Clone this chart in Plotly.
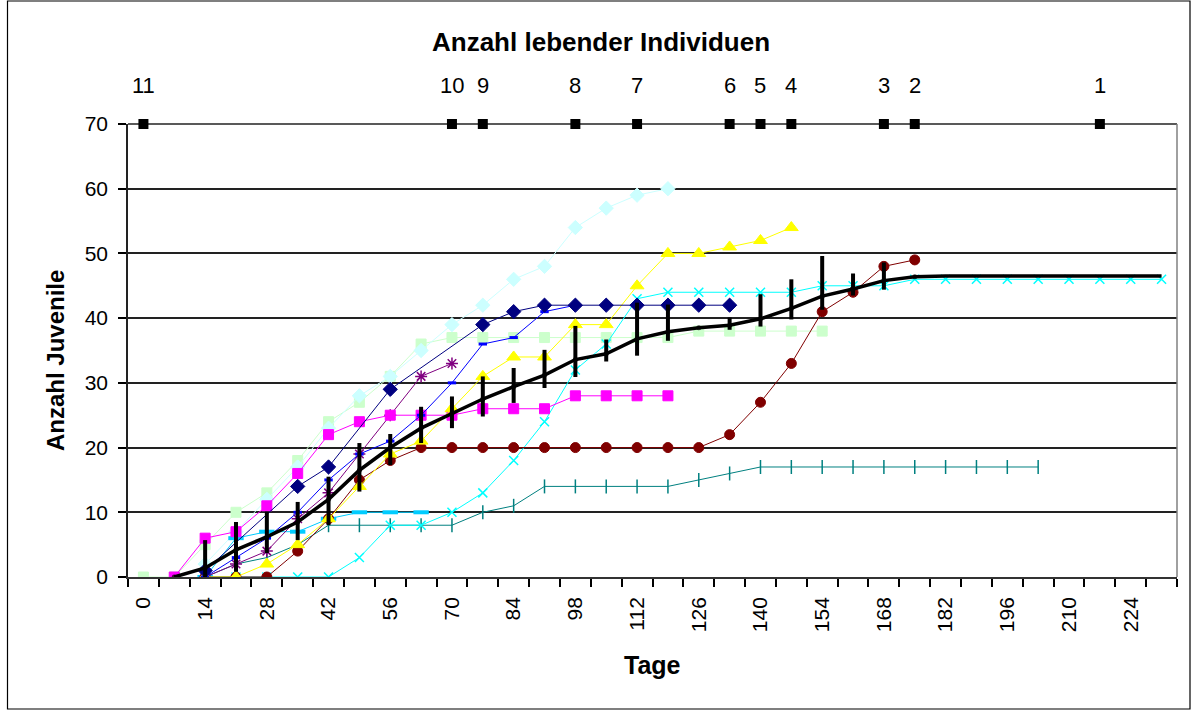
import plotly.graph_objects as go

# ---------------- data ----------------
x_tick_days = list(range(0, 225, 14))

survivor_days = [0, 70, 77, 98, 112, 133, 140, 147, 168, 175, 217]
survivor_counts = [11, 10, 9, 8, 7, 6, 5, 4, 3, 2, 1]

lightgreen_days = [0, 7, 14, 21, 28, 35, 42, 49, 56, 63, 70, 77, 84, 91, 98, 105, 112, 119, 126, 133, 140, 147, 154]
lightgreen_vals = [0, 0, 5, 10, 13, 18, 24, 27, 31, 36, 37, 37, 37, 37, 37, 37, 37, 37, 38, 38, 38, 38, 38]

lightcyan_days = [14, 21, 28, 35, 42, 49, 56, 63, 70, 77, 84, 91, 98, 105, 112, 119]
lightcyan_vals = [2, 7, 12, 17, 23, 28, 31, 35, 39, 42, 46, 48, 54, 57, 59, 60]

magenta_days = [7, 14, 21, 28, 35, 42, 49, 56, 63, 70, 77, 84, 91, 98, 105, 112, 119]
magenta_vals = [0, 6, 7, 11, 16, 22, 24, 25, 25, 25, 26, 26, 26, 28, 28, 28, 28]

yellow_days = [14, 21, 28, 35, 42, 49, 56, 63, 70, 77, 84, 91, 98, 105, 112, 119, 126, 133, 140, 147]
yellow_vals = [0, 0, 2, 5, 9, 14, 19, 21, 26, 31, 34, 34, 39, 39, 45, 50, 50, 51, 52, 54]

navy_days = [14, 35, 42, 56, 77, 84, 91, 98, 105, 112, 119, 126, 133]
navy_vals = [1, 14, 17, 29, 39, 41, 42, 42, 42, 42, 42, 42, 42]

blue_days = [14, 21, 28, 35, 42, 49, 56, 63, 70, 77, 84, 91, 98]
blue_vals = [0, 3, 6, 10, 15, 19, 21, 25, 30, 36, 37, 41, 42]

sky_days = [14, 21, 28, 35, 42, 49, 56, 63]
sky_vals = [0, 6, 7, 7, 9, 10, 10, 10]

purple_days = [14, 21, 28, 35, 42, 49, 56, 63, 70]
purple_vals = [0, 2, 4, 9, 13, 19, 25, 31, 33]

darkred_days = [14, 21, 28, 35, 42, 49, 56, 63, 70, 77, 84, 91, 98, 105, 112, 119, 126, 133, 140, 147, 154, 161, 168, 175]
darkred_vals = [0, 0, 0, 4, 9, 15, 18, 20, 20, 20, 20, 20, 20, 20, 20, 20, 20, 22, 27, 33, 41, 44, 48, 49]

teal_days = [14, 21, 28, 35, 42, 49, 56, 63, 70, 77, 84, 91, 98, 105, 112, 119, 126, 133, 140, 147, 154, 161, 168, 175, 182, 189, 196, 203]
teal_vals = [0, 2, 3, 5, 8, 8, 8, 8, 8, 10, 11, 14, 14, 14, 14, 14, 15, 16, 17, 17, 17, 17, 17, 17, 17, 17, 17, 17]

cyan_days = [14, 21, 28, 35, 42, 49, 56, 63, 70, 77, 84, 91, 98, 105, 112, 119, 126, 133, 140, 147, 154, 161, 168, 175, 182, 189, 196, 203, 210, 217, 224, 231]
cyan_vals = [0, 0, 0, 0, 0, 3, 8, 8, 10, 13, 18, 24, 32, 36, 43, 44, 44, 44, 44, 44, 45, 45, 45, 46, 46, 46, 46, 46, 46, 46, 46, 46]

mean_days = [7, 14, 21, 28, 35, 42, 49, 56, 63, 70, 77, 84, 91, 98, 105, 112, 119, 126, 133, 140, 147, 154, 161, 168, 175, 182, 189, 196, 203, 210, 217, 224, 231]
mean_vals = [0, 1.4, 4.2, 6.2, 8.5, 12, 16.5, 20, 23, 25.3, 27.5, 29.4, 31.2, 33.6, 34.5, 36.8, 37.9, 38.5, 38.9, 39.9, 41.5, 43.4, 44.5, 45.8, 46.4, 46.5, 46.5, 46.5, 46.5, 46.5, 46.5, 46.5, 46.5]
bar_top = [0, 5.7, 8.5, 10.1, 11.6, 15.5, 20.7, 22.1, 26.3, 27.9, 31, 32.3, 35.1, 38.8, 36.7, 42.4, 42.1, 38.5, 40.1, 43.7, 46, 49.6, 46.9, 48.6, 46.4, 46.5, 46.5, 46.5, 46.5, 46.5, 46.5, 46.5, 46.5]
bar_bottom = [0, -1, 0.8, 3.7, 5.7, 8, 13.2, 17.3, 20.7, 23, 24.8, 26.9, 29.2, 30.9, 33.3, 34.2, 36.5, 38.5, 38.2, 38.7, 39.8, 41.3, 43.5, 44.4, 46.4, 46.5, 46.5, 46.5, 46.5, 46.5, 46.5, 46.5, 46.5]
last_mean_marker_day = 175

# ---------------- figure ----------------
W, H = 1192, 711
L, R, T, B = 128, 15, 124, 134
PW, PH = W - L - R, H - T - B

def px_x(p):
    return (p - L) / PW

def px_y(p):
    return (H - B - p) / PH

fig = go.Figure()

def add_series(days, vals, color, symbol, size, mwidth=1, lw=1):
    fig.add_trace(go.Scatter(x=days, y=vals, mode="lines+markers",
                             line=dict(color=color, width=lw),
                             marker=dict(symbol=symbol, size=size, color=color,
                                         line=dict(color=color, width=mwidth)),
                             showlegend=False, hoverinfo="skip"))

add_series(lightgreen_days, lightgreen_vals, "#CCFFCC", "square", 10)
add_series(lightcyan_days, lightcyan_vals, "#CCFFFF", "diamond", 11)
add_series(sky_days, sky_vals, "#00CCFF", "line-ew-open", 11, mwidth=4)
add_series(teal_days, teal_vals, "#008080", "line-ns-open", 10, mwidth=1.5)
add_series(cyan_days, cyan_vals, "#00FFFF", "x-thin-open", 9, mwidth=1.5)
add_series(darkred_days, darkred_vals, "#800000", "circle", 10)
add_series(purple_days, purple_vals, "#800080", "asterisk-open", 10, mwidth=1.5)
add_series(magenta_days, magenta_vals, "#FF00FF", "square", 10)
add_series(yellow_days, yellow_vals, "#FFFF00", "triangle-up", 12)
add_series(blue_days, blue_vals, "#0000FF", "line-ew-open", 6, mwidth=3)
add_series(navy_days, navy_vals, "#000080", "diamond", 11)

err_plus = [t - m for t, m in zip(bar_top, mean_vals)]
err_minus = [m - b for m, b in zip(mean_vals, bar_bottom)]
mean_marker_sizes = [5 if d <= last_mean_marker_day else 0 for d in mean_days]
fig.add_trace(go.Scatter(x=mean_days, y=mean_vals, mode="lines+markers",
                         line=dict(color="#000000", width=3.5),
                         marker=dict(symbol="circle", size=mean_marker_sizes, color="#000000",
                                     line=dict(width=0)),
                         error_y=dict(type="data", symmetric=False, array=err_plus,
                                      arrayminus=err_minus, color="#000000",
                                      thickness=4, width=0),
                         showlegend=False, hoverinfo="skip"))

fig.add_trace(go.Scatter(x=survivor_days, y=[70] * len(survivor_days), mode="markers",
                         marker=dict(symbol="square", size=10, color="#000000", line=dict(width=0)),
                         cliponaxis=False, showlegend=False, hoverinfo="skip"))

FONT = "Liberation Sans, Arial, sans-serif"
annotations = []
for d, c in zip(survivor_days, survivor_counts):
    annotations.append(dict(x=d, y=70, xref="x", yref="y", text=str(c), showarrow=False,
                            yshift=39, font=dict(family=FONT, size=22, color="#000")))
annotations.append(dict(x=px_x(601), y=px_y(42), xref="paper", yref="paper",
                        text="<b>Anzahl lebender Individuen</b>", showarrow=False,
                        xanchor="center", yanchor="middle",
                        font=dict(family=FONT, size=26, color="#000")))
annotations.append(dict(x=0.5, y=px_y(665), xref="paper", yref="paper",
                        text="<b>Tage</b>", showarrow=False, xanchor="center", yanchor="middle",
                        font=dict(family=FONT, size=25, color="#000")))
annotations.append(dict(x=px_x(55), y=px_y(361), xref="paper", yref="paper",
                        text="<b>Anzahl Juvenile</b>", showarrow=False, textangle=-90,
                        xanchor="center", yanchor="middle",
                        font=dict(family=FONT, size=24, color="#000")))

minor_ticks = [-3.5 + 7 * k for k in range(35)]

fig.update_layout(
    width=W, height=H, autosize=False,
    margin=dict(l=L, r=R, t=T, b=B, pad=0, autoexpand=False),
    paper_bgcolor="#FFFFFF", plot_bgcolor="#FFFFFF",
    font=dict(family=FONT, size=21, color="#000"),
    annotations=annotations,
    shapes=[
        dict(type="line", xref="paper", yref="paper", x0=0, x1=1, y0=1, y1=1,
             line=dict(color="#222222", width=1.5), layer="below"),
        dict(type="line", xref="paper", yref="paper", x0=1, x1=1, y0=0, y1=1,
             line=dict(color="#808080", width=1.5)),
        dict(type="rect", xref="paper", yref="paper",
             x0=px_x(7.5), x1=px_x(1190), y0=px_y(709), y1=px_y(1),
             line=dict(color="#000000", width=1.2)),
    ],
)
fig.update_xaxes(range=[-3.5, 234.5], tickmode="array", tickvals=x_tick_days,
                 ticktext=[str(v) for v in x_tick_days], tickangle=-90,
                 ticks="outside", ticklen=10, tickcolor="rgba(0,0,0,0)",
                 minor=dict(tickmode="array", tickvals=minor_ticks, ticks="outside",
                            ticklen=8, tickcolor="#000000", tickwidth=1.5, showgrid=False),
                 showgrid=False, zeroline=False, showline=True, automargin=False,
                 linecolor="#333333", linewidth=1.5,
                 tickfont=dict(family=FONT, size=21, color="#000"))
fig.update_yaxes(range=[0, 70], tickmode="linear", tick0=0, dtick=10,
                 ticks="outside", ticklen=8, tickcolor="#000000", tickwidth=1.5,
                 showgrid=True, gridcolor="#222222", gridwidth=1.5, automargin=False,
                 zeroline=False, showline=True, linecolor="#222222", linewidth=1.5,
                 ticklabelstandoff=6,
                 tickfont=dict(family=FONT, size=21, color="#000"))

fig.write_html("out.html", config={"displayModeBar": False},
               post_script="document.body.style.margin='0px';document.body.style.overflow='hidden';")
